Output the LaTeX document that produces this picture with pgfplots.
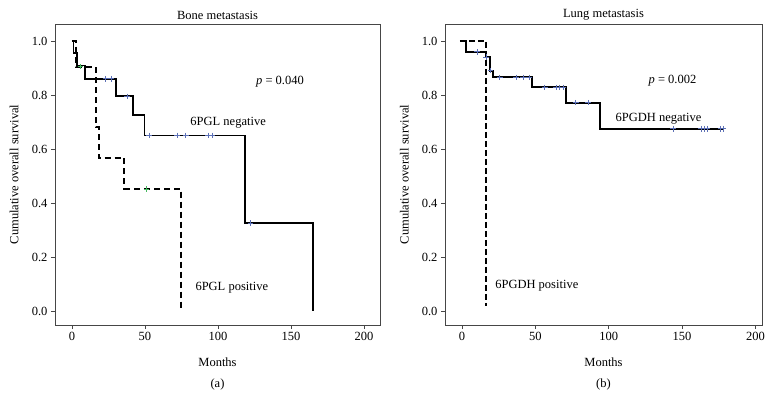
\documentclass[border=0pt]{standalone}
\usepackage{fontspec}
\setmainfont{Liberation Serif}
\usepackage{pgfplots}
\pgfplotsset{compat=1.18}
\definecolor{censblue}{RGB}{92,112,182}
\definecolor{censgreen}{RGB}{70,185,95}
\definecolor{axgray}{RGB}{70,70,70}
\newcommand{\fs}{\fontsize{12.5}{14}\selectfont}
\pgfplotsset{
  kmaxis/.style={
    scale only axis,
    height=301pt,
    xmin=-11.6, xmax=211,
    ymin=-0.052, ymax=1.063,
    xtick={0,50,100,150,200},
    ytick={0,0.2,0.4,0.6,0.8,1.0},
    yticklabel style={/pgf/number format/.cd,fixed,fixed zerofill,precision=1},
    /pgf/number format/assume math mode=true,
    tick align=outside, tick pos=left,
    major tick length=4pt,
    axis line style={axgray, line width=0.8pt},
    every tick/.style={axgray, line width=0.8pt},
    tick label style={font=\fs},
    label style={font=\fs},
    xlabel={Months},
    ylabel={Cumulative overall survival},
    clip=false,
  },
  solidkm/.style={black, line width=1.7pt, const plot, mark=none},
  censor/.style={only marks, mark=+, mark size=2.8pt, line width=0.8pt},
}
\begin{document}
\begin{tikzpicture}[x=1pt,y=1pt]
\useasboundingbox (0,0) rectangle (780,410);
% ---------------- Left panel ----------------
\begin{axis}[kmaxis, width=325pt,
  at={(55pt,85pt)}, anchor=south west,
  xlabel style={at={(axis description cs:0.5,-0.123)}, anchor=center},
  ylabel style={at={(axis description cs:-0.126,0.5)}, anchor=center},
]
\addplot[solidkm] coordinates {
  (0,1) (1.1,0.955) (3.4,0.909) (8.9,0.86) (30,0.795) (41.8,0.725)
  (49.8,0.65) (118.4,0.325) (165.3,0.0)
};
\addplot[black, line width=2pt, const plot, mark=none, dash pattern=on 6pt off 4pt] coordinates {
  (0,1) (3,0.905) (16.4,0.68) (18.3,0.565) (36,0.452) (75,0.005)
};
\addplot[censor, censblue] coordinates {
  (23,0.86) (26.7,0.86) (37.7,0.795) (52.8,0.65) (72,0.65) (78,0.65)
  (93.3,0.65) (96,0.65) (122.3,0.325)
};
\addplot[censor, censgreen] coordinates {(6,0.905) (51,0.452)};
\node[font=\fs] at (axis description cs:0.5,1.030) {Bone metastasis};
\node[font=\fs] at (axis cs:142.5,0.848) {\textit{p} = 0.040};
\node[font=\fs] at (axis cs:107,0.697) {6PGL negative};
\node[font=\fs] at (axis cs:109.5,0.087) {6PGL positive};
\node[font=\fs] at (axis description cs:0.5,-0.196) {(a)};
\end{axis}
% ---------------- Right panel ----------------
\begin{axis}[kmaxis, width=317pt,
  at={(445pt,85pt)}, anchor=south west,
  xmin=-11.6, xmax=204.5,
  xlabel style={at={(axis description cs:0.5,-0.123)}, anchor=center},
  ylabel style={at={(axis description cs:-0.128,0.5)}, anchor=center},
]
\addplot[black, line width=2.3pt, const plot, mark=none, dash pattern=on 6pt off 3pt] coordinates {
  (-1.5,1) (16.3,0.02)
};
\addplot[solidkm, line width=2pt] coordinates {
  (0,1) (3,0.96) (16.2,0.94) (19,0.89) (21,0.865) (47.7,0.828)
  (70.6,0.772) (94.3,0.675) (178,0.675)
};
\addplot[censor, censblue] coordinates {
  (10.2,0.96) (16.5,0.94) (19.5,0.89) (25.7,0.865) (37,0.865) (41.6,0.865)
  (45.7,0.865) (56.4,0.828) (64,0.828) (66.6,0.828) (69,0.828) (77.5,0.772)
  (86,0.772) (143.9,0.675) (163,0.675) (165.5,0.675) (167,0.675)
  (176.4,0.675) (178,0.675)
};
\node[font=\fs] at (axis description cs:0.5,1.030) {Lung metastasis};
\node[font=\fs] at (axis cs:143.5,0.852) {\textit{p} = 0.002};
\node[font=\fs] at (axis cs:134,0.712) {6PGDH negative};
\node[font=\fs] at (axis cs:51,0.092) {6PGDH positive};
\node[font=\fs] at (axis description cs:0.5,-0.196) {(b)};
\end{axis}
\end{tikzpicture}
\end{document}
